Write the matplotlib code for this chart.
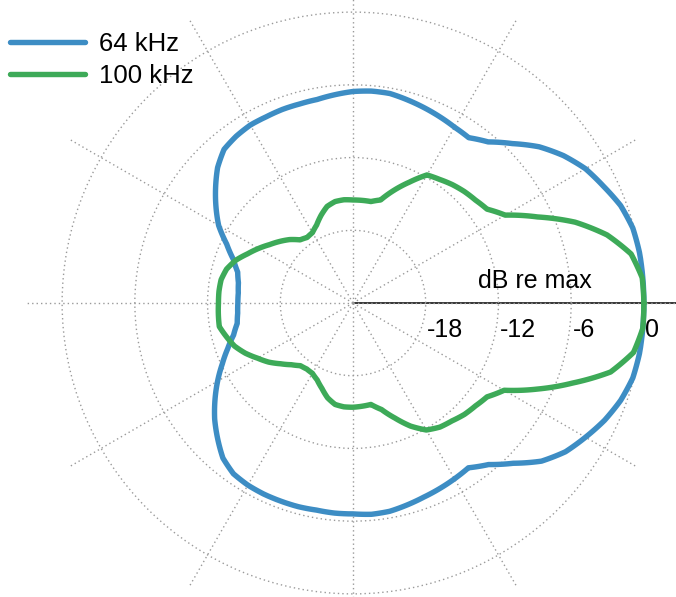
import numpy as np
import matplotlib
matplotlib.use("Agg")
import matplotlib.pyplot as plt

plt.rcParams['font.family'] = ['Liberation Sans', 'DejaVu Sans']

# ---- data (dB re max) ----
angles_deg = np.arange(0, 365, 5)

db_64k = [0, 0, 0, -0.1, -0.5, -1.2, -1.85, -2.8, -3.95, -5.4,
          -6.65, -7.35, -7.25, -7.05, -6.85, -6.65, -6.45, -6.45, -6.55, -6.75,
          -6.95, -7.0, -7.0, -7.05, -7.05, -7.2, -7.45, -8.2, -9.2, -10.2,
          -11.2, -12.5, -13.5, -14.15, -14.4, -14.5, -14.5, -14.45, -14.3, -13.8,
          -13.0, -12.1, -11.1, -10.1, -9.1, -8.2, -7.3, -6.8, -6.65, -6.6,
          -6.6, -6.6, -6.65, -6.6, -6.6, -6.5, -6.55, -6.75, -6.95, -7.1,
          -7.25, -7.4, -6.6, -5.3, -3.7, -2.6, -1.85, -1.1, -0.5, -0.1,
          0, 0, 0]

db_100k = [0, -0.05, -0.7, -2.3, -4.5, -7.2, -9.5, -10.5, -10.8, -11.0,
           -11.25, -11.55, -11.8, -13.0, -14.1, -15.2, -15.5, -15.5, -15.5, -15.45,
           -15.5, -15.75, -16.3, -16.9, -17.3, -17.4, -17.2, -16.6, -16.1, -15.6,
           -15.0, -14.4, -13.7, -13.2, -12.95, -12.9, -12.9, -12.85, -12.8, -13.2,
           -13.6, -14.2, -14.9, -15.5, -16.2, -16.8, -17.25, -17.35, -17.3, -17.0,
           -16.5, -15.9, -15.5, -15.4, -15.4, -15.45, -15.5, -14.9, -13.9, -12.8,
           -11.9, -11.5, -11.3, -11.0, -10.8, -10.5, -9.6, -7.2, -4.7, -2.0,
           -0.5, 0, 0]

series_labels = ["64 kHz", "100 kHz"]
series_colors = ["#3d8dc4", "#3daa58"]
ring_values = [-18, -12, -6, 0]
ring_labels = ["-18", "-12", "-6", "0"]
r_min, r_max = -24, 3.0

W, H = 676, 597
fig = plt.figure(figsize=(W / 100, H / 100), dpi=100)
cx, cy = 353, 303          # centre in pixels (from top)
rad_px = (r_max - r_min) * 12.12
ax = fig.add_axes([(cx - rad_px) / W, (H - cy - rad_px) / H,
                   2 * rad_px / W, 2 * rad_px / H], projection='polar')
ax.set_facecolor('none')
ax.spines['polar'].set_visible(False)
ax.set_ylim(r_min, r_max)
ax.set_rgrids(ring_values, labels=[''] * len(ring_values))
ax.set_thetagrids(np.arange(0, 360, 30), labels=[''] * 12)
ax.grid(True, color='#9a9a9a', linestyle=(0, (1, 2.2)), linewidth=1.0)
ax.tick_params(length=0)

theta = np.deg2rad(angles_deg)
lines = []
for vals, lab, col in zip([db_64k, db_100k], series_labels, series_colors):
    ln, = ax.plot(theta, vals, color=col, lw=3.9, label=lab,
                  solid_joinstyle='round', solid_capstyle='round')
    ln.get_path()._interpolation_steps = 10
    lines.append(ln)

# solid axis line to the right
ax.plot([0, 0], [r_min, r_max + 1], color='black', lw=1.1, clip_on=False, zorder=1)

for v, lab in zip(ring_values, ring_labels):
    ax.annotate(lab, xy=(0, v), xytext=(1, -24.5), textcoords='offset points',
                ha='left', va='baseline', fontsize=18, color='black')

fig.text(535 / W, (H - 288) / H, "dB re max", ha='center', va='baseline',
         fontsize=18, color='black')

fig.legend(handles=lines, labels=series_labels, loc='upper left',
           bbox_to_anchor=(10 / W, 1 - 32 / H), frameon=False, fontsize=18.5,
           handlelength=2.9, handletextpad=0.55, labelspacing=0.3,
           borderpad=0, borderaxespad=0)

fig.savefig("out.png", dpi=100)
